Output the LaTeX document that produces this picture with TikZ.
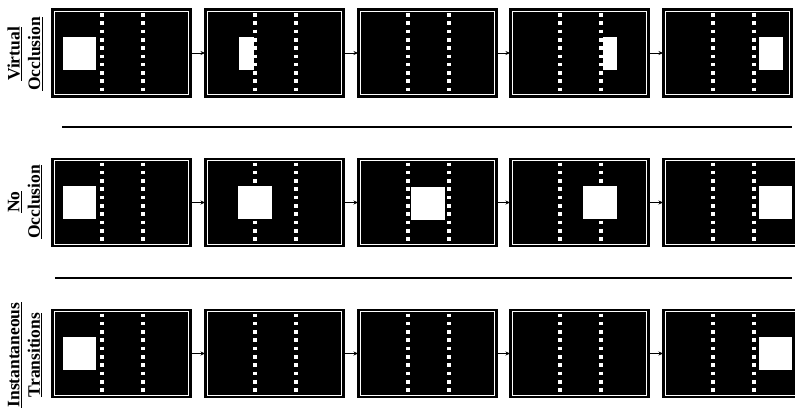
\documentclass[tikz,border=0pt]{standalone}
\usepackage{fontspec}
\setmainfont{Liberation Serif}
\usetikzlibrary{arrows.meta}
\begin{document}
\begin{tikzpicture}[x=1pt,y=-1pt,
  frame/.style={fill=black,draw=black,line width=1.2pt,minimum height=88pt,inner sep=0pt,outer sep=0pt},
  innerline/.style={draw=white,line width=0.7pt},
  dotline/.style={draw=white,line width=3.2pt,dash pattern=on 3.6pt off 4.7pt},
  sq/.style={fill=white},
  conn/.style={-{Stealth[length=4.5pt,width=4pt]},line width=0.8pt},
  sepline/.style={line width=1.6pt},
  lab/.style={rotate=90,align=center,inner sep=0pt,font=\fontsize{17.5}{20.5}\selectfont\bfseries}]
\useasboundingbox (0,0) rectangle (795,410);

% frames
\foreach \r/\yc in {1/53,2/202.5,3/353.5}{
  \foreach \i/\xl in {1/52,2/205,3/358,4/510}{
    \node[frame,minimum width=139pt] (f\r\i) at (\xl+69.5,\yc) {};
  }
}
\node[frame,minimum width=129pt] (f15) at (727.5,53) {};
\node[frame,minimum width=135pt] (f25) at (730.5,202.5) {};
\node[frame,minimum width=135pt] (f35) at (730.5,353.5) {};

% inner white borders
\foreach \r in {1,2,3}{
  \foreach \i in {1,2,3,4,5}{
    \draw[innerline] ([shift={(2.3,2.3)}]f\r\i.north west) rectangle ([shift={(-2.3,-2.3)}]f\r\i.south east);
  }
}

% dotted lines
\foreach \r/\yc in {1/53,2/202.5,3/353.5}{
  \foreach \xl in {52,205,358,510,663}{
    \draw[dotline] (\xl+50,\yc-40) -- (\xl+50,\yc+41);
    \draw[dotline] (\xl+91,\yc-40) -- (\xl+91,\yc+41);
  }
}

% squares row 1 (virtual occlusion)
\fill[sq] (63,36.5) rectangle (96,69.5);
\fill[sq] (239,36.5) rectangle (253.5,69.5);
\fill[sq] (602.5,36.5) rectangle (617,69.5);
\fill[sq] (759,36.5) rectangle (783,69.5);
% squares row 2 (no occlusion)
\fill[sq] (63,186) rectangle (96,219);
\fill[sq] (238,186) rectangle (272,219);
\fill[sq] (411,187) rectangle (445,220);
\fill[sq] (583,186) rectangle (617,219);
\fill[sq] (759,185.5) rectangle (792,218.5);
% squares row 3 (instantaneous)
\fill[sq] (63,337) rectangle (96,370);
\fill[sq] (759,337) rectangle (792,370);

% arrows
\foreach \r in {1,2,3}{
  \foreach \i/\j in {1/2,2/3,3/4,4/5}{
    \draw[conn] (f\r\i.east) -- (f\r\j.west);
  }
}

% separators
\coordinate (s1a) at (62,127);
\coordinate (s1b) at (792,127);
\coordinate (s2a) at (55,278);
\coordinate (s2b) at (792,278);
\draw[sepline] (s1a) -- (s1b);
\draw[sepline] (s2a) -- (s2b);

% labels
\node[lab] (l1) at (25,54) {\underline{Virtual}\\\underline{Occlusion}};
\node[lab] (l2) at (25,202) {\underline{No}\\\underline{Occlusion}};
\node[lab] (l3) at (25,355) {\underline{Instantaneous}\\\underline{Transitions}};
\end{tikzpicture}
\end{document}
